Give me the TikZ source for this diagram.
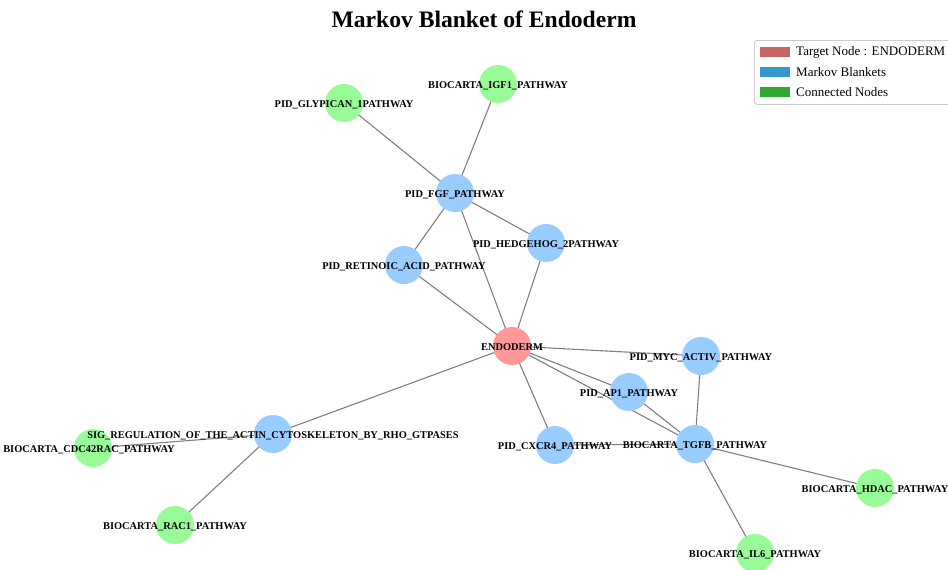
\documentclass[tikz,border=0pt]{standalone}
\usepackage{fontspec}
\setmainfont{Liberation Serif}
\pgfdeclarelayer{bg}
\pgfsetlayers{bg,main}
\begin{document}
\begin{tikzpicture}[x=1pt,y=-1pt,
  edge/.style={draw=black!50, line width=1.1pt},
  vtx/.style={circle, minimum size=38pt, inner sep=0pt, draw=none},
  target/.style={vtx, fill=red!40!white},
  blanket/.style={vtx, fill={rgb,255:red,153;green,204;blue,255}},
  linked/.style={vtx, fill={rgb,255:red,152;green,251;blue,152}},
  lbl/.style={font=\fontsize{10.4}{11}\selectfont\bfseries, inner sep=0pt, text=black, yshift=-1.5pt},
  legtext/.style={font=\fontsize{13}{15}\selectfont, anchor=west, inner sep=0pt},
  swatch/.style={minimum width=30pt, minimum height=10pt, inner sep=0pt, draw=none}
]
\useasboundingbox (0,0) rectangle (948,570);
\clip (0,0) rectangle (948,570);

% title
\node[font=\fontsize{23.6}{26}\selectfont\bfseries] (title) at (484,19) {Markov Blanket of Endoderm};

% node positions
\coordinate (pEND) at (512,346);
\coordinate (pFGF) at (455,193);
\coordinate (pGLY) at (344,103);
\coordinate (pIGF) at (498,84);
\coordinate (pHED) at (546,243);
\coordinate (pRET) at (404,265);
\coordinate (pMYC) at (701,356);
\coordinate (pAP1) at (629,392);
\coordinate (pTGF) at (695,444);
\coordinate (pCXC) at (555,445);
\coordinate (pHDA) at (875,488);
\coordinate (pIL6) at (755,553);
\coordinate (pSIG) at (273,434);
\coordinate (pCDC) at (93,448);
\coordinate (pRAC) at (175,525);

% vertices
\node[target]  (END) at (pEND) {};
\node[blanket] (FGF) at (pFGF) {};
\node[linked]  (GLY) at (pGLY) {};
\node[linked]  (IGF) at (pIGF) {};
\node[blanket] (HED) at (pHED) {};
\node[blanket] (RET) at (pRET) {};
\node[blanket] (MYC) at (pMYC) {};
\node[blanket] (AP1) at (pAP1) {};
\node[blanket] (TGF) at (pTGF) {};
\node[blanket] (CXC) at (pCXC) {};
\node[linked]  (HDA) at (pHDA) {};
\node[linked]  (IL6) at (pIL6) {};
\node[blanket] (SIG) at (pSIG) {};
\node[linked]  (CDC) at (pCDC) {};
\node[linked]  (RAC) at (pRAC) {};

% edges, kept behind the vertices
\begin{pgfonlayer}{bg}
\fill[white] (0,0) rectangle (948,570);
\path[edge] (GLY.center) -- (FGF.center);
\path[edge] (IGF.center) -- (FGF.center);
\path[edge] (FGF.center) -- (RET.center);
\path[edge] (FGF.center) -- (HED.center);
\path[edge] (FGF.center) -- (END.center);
\path[edge] (RET.center) -- (END.center);
\path[edge] (HED.center) -- (END.center);
\path[edge] (END.center) -- (MYC.center);
\path[edge] (END.center) -- (AP1.center);
\path[edge] (END.center) -- (TGF.center);
\path[edge] (END.center) -- (CXC.center);
\path[edge] (END.center) -- (SIG.center);
\path[edge] (AP1.center) -- (TGF.center);
\path[edge] (MYC.center) -- (TGF.center);
\path[edge] (CXC.center) -- (TGF.center);
\path[edge] (TGF.center) -- (HDA.center);
\path[edge] (TGF.center) -- (IL6.center);
\path[edge] (SIG.center) -- (CDC.center);
\path[edge] (SIG.center) -- (RAC.center);
\end{pgfonlayer}

% labels
\node[lbl] (tEND) at (pEND) {ENDODERM};
\node[lbl] (tFGF) at (pFGF) {PID\_FGF\_PATHWAY};
\node[lbl] (tGLY) at (pGLY) {PID\_GLYPICAN\_1PATHWAY};
\node[lbl] (tIGF) at (pIGF) {BIOCARTA\_IGF1\_PATHWAY};
\node[lbl] (tHED) at (pHED) {PID\_HEDGEHOG\_2PATHWAY};
\node[lbl] (tRET) at (pRET) {PID\_RETINOIC\_ACID\_PATHWAY};
\node[lbl] (tMYC) at (pMYC) {PID\_MYC\_ACTIV\_PATHWAY};
\node[lbl] (tAP1) at (pAP1) {PID\_AP1\_PATHWAY};
\node[lbl] (tTGF) at (pTGF) {BIOCARTA\_TGFB\_PATHWAY};
\node[lbl] (tCXC) at (pCXC) {PID\_CXCR4\_PATHWAY};
\node[lbl] (tHDA) at (pHDA) {BIOCARTA\_HDAC\_PATHWAY};
\node[lbl] (tIL6) at (pIL6) {BIOCARTA\_IL6\_PATHWAY};
\node[lbl] (tSIG) at (pSIG) {SIG\_REGULATION\_OF\_THE\_ACTIN\_CYTOSKELETON\_BY\_RHO\_GTPASES};
\node[lbl, xshift=-4pt] (tCDC) at (pCDC) {BIOCARTA\_CDC42RAC\_PATHWAY};
\node[lbl] (tRAC) at (pRAC) {BIOCARTA\_RAC1\_PATHWAY};

% legend
\node[draw=black!20, fill=white, rounded corners=3pt, line width=0.8pt,
      minimum width=200pt, minimum height=64pt, anchor=north west] (legend) at (754,40) {};
\node[swatch, fill={rgb,255:red,200;green,100;blue,100}] (s1) at (775,52) {};
\node[swatch, fill={rgb,255:red,52;green,152;blue,206}] (s2) at (775,72) {};
\node[swatch, fill={rgb,255:red,48;green,168;blue,48}] (s3) at (775,92) {};
\node[legtext] (l1) at (796,52) {Target Node : ENDODERM};
\node[legtext] (l2) at (796,72) {Markov Blankets};
\node[legtext] (l3) at (796,92) {Connected Nodes};
\end{tikzpicture}
\end{document}
